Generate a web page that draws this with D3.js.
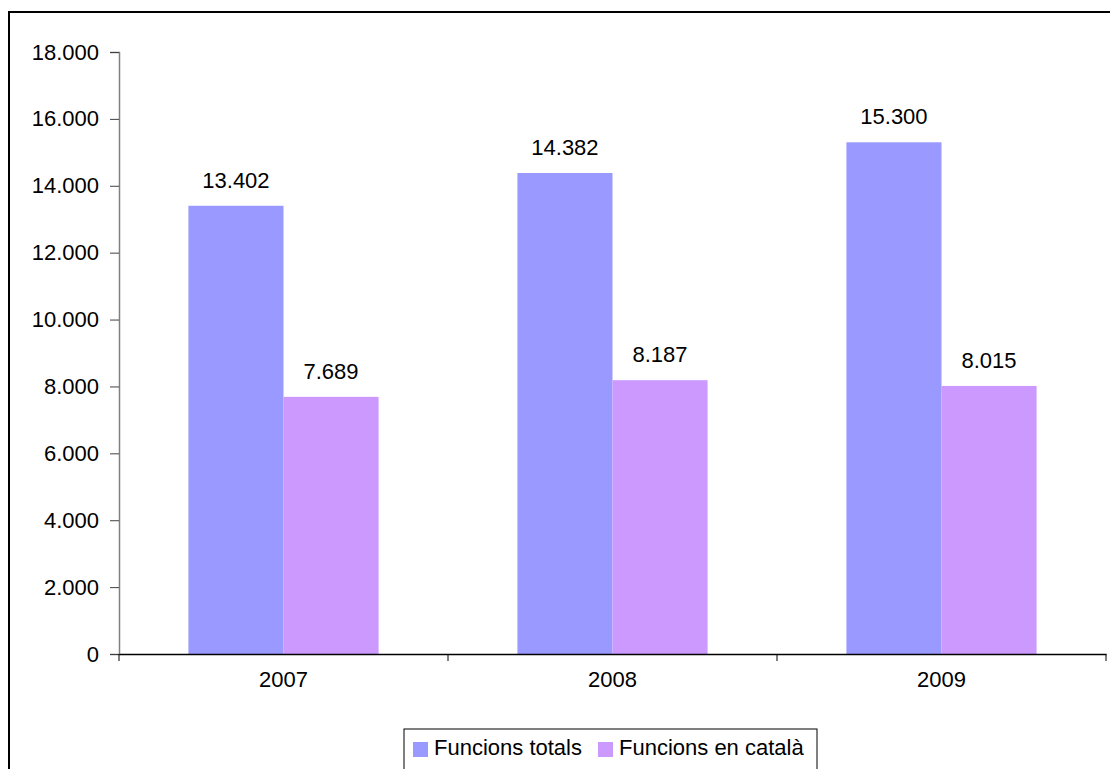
<!DOCTYPE html>
<html>
<head>
<meta charset="utf-8">
<script src="https://cdn.jsdelivr.net/npm/d3@7"></script>
<style>
  html, body { margin: 0; padding: 0; background: #fff; }
  svg { display: block; font-family: Arial, "Liberation Sans", sans-serif; }
</style>
</head>
<body>
<svg id="chart" width="1110" height="769"></svg>
<script>
const categories = ["2007", "2008", "2009"];
const seriesNames = ["Funcions totals", "Funcions en català"];
const totals = [13402, 14382, 15300];
const catalan = [7689, 8187, 8015];
const yTicks = [0, 2000, 4000, 6000, 8000, 10000, 12000, 14000, 16000, 18000];
const colors = ["#9999FF", "#CC99FF"];

(function () {
const locale = d3.formatLocale({decimal: ",", thousands: ".", grouping: [3], currency: ["", ""]});
const fmt = locale.format(",d");

const svg = d3.select("#chart");
const W = 1110, H = 769;
const mLeft = 119, mRight = 1106, mTop = 52, mBottom = 654;
const FS = 22;

// outer frame
svg.append("rect").attr("x", 9).attr("y", 12).attr("width", W - 9 + 10).attr("height", H)
  .attr("fill", "#fff").attr("stroke", "#000").attr("stroke-width", 2);

const x0 = d3.scaleBand().domain(categories).range([mLeft, mRight]).paddingInner(0).paddingOuter(0);
const x1 = d3.scaleBand().domain(seriesNames).range([0, x0.bandwidth()]).paddingInner(0).paddingOuter(0.73);
const y = d3.scaleLinear().domain([0, 18000]).range([mBottom, mTop]);

const data = categories.map((c, i) => ({cat: c, vals: [totals[i], catalan[i]]}));

const groups = svg.append("g").selectAll("g").data(data).join("g")
  .attr("transform", d => `translate(${x0(d.cat)},0)`);

groups.selectAll("rect").data(d => d.vals.map((v, j) => ({v, s: seriesNames[j], j})))
  .join("rect")
  .attr("x", d => x1(d.s))
  .attr("width", x1.bandwidth())
  .attr("y", d => y(d.v))
  .attr("height", d => mBottom - y(d.v))
  .attr("fill", d => colors[d.j]);

groups.selectAll("text").data(d => d.vals.map((v, j) => ({v, s: seriesNames[j], j})))
  .join("text")
  .attr("x", d => x1(d.s) + x1.bandwidth() / 2)
  .attr("y", d => y(d.v) - 18)
  .attr("text-anchor", "middle")
  .attr("font-size", FS)
  .attr("fill", "#000")
  .text(d => fmt(d.v));

// y axis
const yAxis = svg.append("g").attr("transform", `translate(${mLeft},0)`)
  .call(d3.axisLeft(y).tickValues(yTicks).tickFormat(fmt).tickSize(9).tickPadding(11));
yAxis.select(".domain").attr("stroke", "#808080").attr("stroke-width", 1.5);
yAxis.selectAll(".tick line").attr("stroke", "#404040");
yAxis.selectAll("text").attr("font-size", FS).attr("fill", "#000").attr("font-family", "Arial, 'Liberation Sans', sans-serif");

// x axis
const xAxis = svg.append("g").attr("transform", `translate(0,${mBottom})`)
  .call(d3.axisBottom(x0).tickSize(0).tickPadding(17));
xAxis.select(".domain").attr("stroke", "#000").attr("stroke-width", 1.5);
xAxis.selectAll("text").attr("font-size", FS).attr("fill", "#000").attr("dy", "0.71em").attr("font-family", "Arial, 'Liberation Sans', sans-serif");
// category boundary ticks
const bounds = categories.map(c => x0(c)).concat([x0(categories[categories.length - 1]) + x0.bandwidth()]);
svg.append("g").selectAll("line").data(bounds).join("line")
  .attr("x1", d => d).attr("x2", d => d)
  .attr("y1", mBottom).attr("y2", mBottom + 7)
  .attr("stroke", "#000").attr("stroke-width", 1);

// legend
const lg = svg.append("g");
lg.append("rect").attr("x", 404).attr("y", 729).attr("width", 413).attr("height", 60)
  .attr("fill", "#fff").attr("stroke", "#000").attr("stroke-width", 1);
const legX = [413, 598];
seriesNames.forEach((s, i) => {
  lg.append("rect").attr("x", legX[i]).attr("y", 742).attr("width", 15).attr("height", 15).attr("fill", colors[i]);
  lg.append("text").attr("x", legX[i] + 21).attr("y", 755).attr("font-size", FS).attr("fill", "#000").text(s);
});
})();
</script>
</body>
</html>
